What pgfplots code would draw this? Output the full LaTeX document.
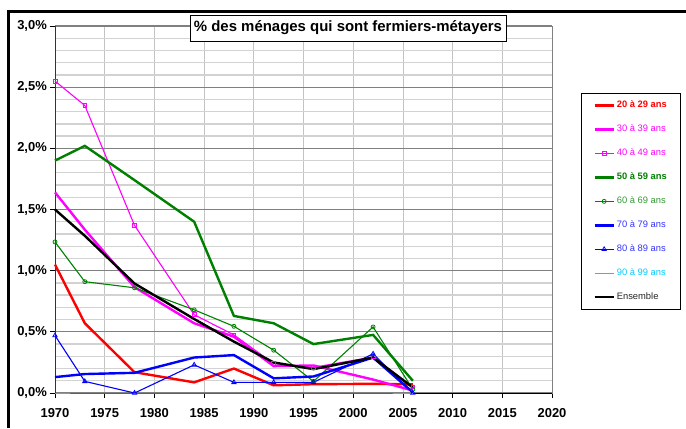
\documentclass[border=0pt]{standalone}
\usepackage{pgfplots}
\pgfplotsset{compat=1.18}
\usepackage{fontspec}
\setmainfont{Liberation Sans}
\definecolor{cred}{RGB}{255,0,0}
\definecolor{cmag}{RGB}{255,0,255}
\definecolor{cgreen}{RGB}{0,128,0}
\definecolor{cblue}{RGB}{0,0,255}
\definecolor{ccyan}{RGB}{0,204,255}
\definecolor{majgrid}{RGB}{128,128,128}
\definecolor{mingrid}{RGB}{210,210,210}
\definecolor{vgrid}{RGB}{195,195,195}
\begin{document}
\begin{tikzpicture}[x=1bp,y=1bp]
\useasboundingbox (0,0) rectangle (686,428);
\begin{axis}[
  at={(55bp,35bp)}, anchor=south west,
  scale only axis, width=497bp, height=367bp,
  xmin=1970, xmax=2020, ymin=0, ymax=3,
  clip=false,
  xtick={1970,1975,1980,1985,1990,1995,2000,2005,2010,2015,2020},
  xticklabels={1970,1975,1980,1985,1990,1995,2000,2005,2010,2015,2020},
  ytick={0,0.5,1,1.5,2,2.5,3},
  yticklabels={{0,0\%},{0,5\%},{1,0\%},{1,5\%},{2,0\%},{2,5\%},{3,0\%}},
  minor y tick num=4,
  xmajorgrids, ymajorgrids, yminorgrids,
  major x grid style={draw=vgrid, line width=0.8bp},
  major y grid style={draw=majgrid, line width=1.3bp},
  minor y grid style={draw=mingrid, line width=1.3bp},
  tick align=outside, major tick length=5bp, minor tick length=0pt,
  xtick pos=bottom, ytick pos=left,
  tick style={black, line width=0.8bp},
  axis line style={draw=majgrid, line width=0.8bp},
  tick label style={font=\bfseries\fontsize{13}{15}\selectfont},
  yticklabel style={inner xsep=3bp},
  xticklabel style={yshift=-7bp},
  every axis title shift=0pt,
  title={\% des ménages qui sont fermiers-métayers},
  title style={at={(axis description cs:0.5895,0.9946)}, anchor=center,
    draw=black, fill=white, line width=0.8bp,
    font=\bfseries\fontsize{15}{17}\selectfont, inner xsep=4bp,
    minimum height=26bp},
  legend style={at={(axis description cs:1.0584,0.8174)}, anchor=north west,
    draw=black, line width=0.8bp, fill=white,
    font=\fontsize{9.4}{11}\selectfont,
    inner xsep=12bp, inner ysep=5.5bp, row sep=11bp,
    nodes={text height=7bp, text depth=2bp}},
  legend cell align=left,
  legend image code/.code={\draw[mark repeat=2,mark phase=2,#1] plot coordinates {(0bp,0bp)(9.5bp,0bp)(19bp,0bp)};},
]
\draw[black, line width=1bp] (axis cs:1970,0) -- (axis cs:2020,0);
\draw[black!80, line width=1bp] (axis cs:1970,0) -- (axis cs:1970,3);

\addplot[cred, line width=2.4bp, mark=none] coordinates {
(1970,1.05)(1973,0.57)(1978,0.17)(1984,0.087)(1988,0.20)(1992,0.063)(1996,0.072)(2002,0.075)(2006,0.07)};
\addlegendentry{\textcolor{cred}{\textbf{20 à 29 ans}}}

\addplot[cmag, line width=2.4bp, mark=none] coordinates {
(1970,1.64)(1973,1.335)(1978,0.865)(1984,0.57)(1988,0.46)(1992,0.22)(1996,0.225)(2002,0.11)(2006,0.02)};
\addlegendentry{\textcolor{cmag}{30 à 39 ans}}

\addplot[cmag, line width=1.1bp, mark=square, mark size=1.9bp, mark options={fill=none, line width=0.8bp}] coordinates {
(1970,2.55)(1973,2.35)(1978,1.37)(1984,0.64)(1988,0.475)(1992,0.24)(1996,0.21)(2002,0.295)(2006,0.05)};
\addlegendentry{\textcolor{cmag}{40 à 49 ans}}

\addplot[cgreen, line width=2.4bp, mark=none] coordinates {
(1970,1.90)(1973,2.02)(1978,1.74)(1984,1.40)(1988,0.63)(1992,0.57)(1996,0.40)(2002,0.475)(2006,0.10)};
\addlegendentry{\textcolor{cgreen}{\textbf{50 à 59 ans}}}

\addplot[cgreen, line width=1.1bp, mark=o, mark size=2bp, mark options={fill=none, line width=0.8bp}] coordinates {
(1970,1.235)(1973,0.91)(1978,0.86)(1984,0.68)(1988,0.545)(1992,0.35)(1996,0.095)(2002,0.54)(2006,0.03)};
\addlegendentry{\textcolor{cgreen!80!white}{60 à 69 ans}}

\addplot[cblue, line width=2.4bp, mark=none] coordinates {
(1970,0.13)(1973,0.155)(1978,0.165)(1984,0.29)(1988,0.31)(1992,0.12)(1996,0.135)(2002,0.29)(2006,0.005)};
\addlegendentry{\textcolor{cblue!80!white}{70 à 79 ans}}

\addplot[cblue, line width=1.1bp, mark=triangle, mark size=2.5bp, mark options={fill=none, line width=0.8bp}] coordinates {
(1970,0.47)(1973,0.095)(1978,0)(1984,0.23)(1988,0.087)(1992,0.087)(1996,0.087)(2002,0.32)(2006,0)};
\addlegendentry{\textcolor{cblue!80!white}{80 à 89 ans}}

\addplot[ccyan, line width=1bp, mark=none] coordinates {
(1970,0)(1973,0)(1978,0)(1984,0)(1988,0)(1992,0)(1996,0)(2002,0)(2006,0)};
\addlegendentry{\textcolor{ccyan}{90 à 99 ans}}

\addplot[black, line width=2.4bp, mark=none] coordinates {
(1970,1.50)(1973,1.285)(1978,0.895)(1984,0.605)(1988,0.42)(1992,0.25)(1996,0.195)(2002,0.29)(2006,0.045)};
\addlegendentry{\textcolor{black!85}{Ensemble}}
\end{axis}
\draw[black, line width=3bp] (8.7,0) -- (8.7,416.5) -- (690,416.5);
\end{tikzpicture}
\end{document}
